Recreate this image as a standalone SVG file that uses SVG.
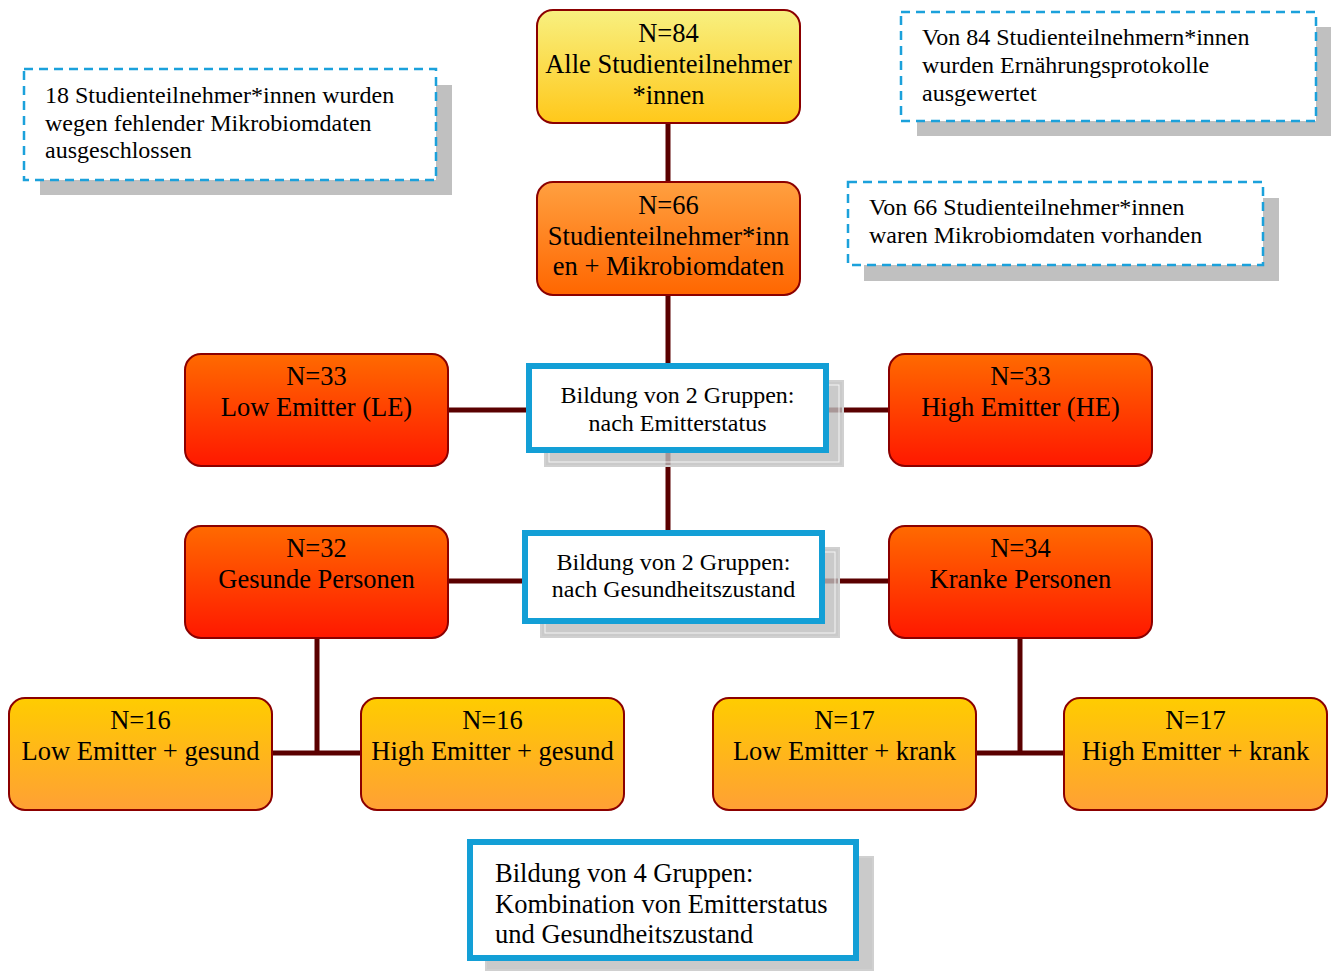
<svg xmlns="http://www.w3.org/2000/svg" width="1335" height="971" viewBox="0 0 1335 971">
<defs>
<linearGradient id="gYellow" x1="0" y1="0" x2="0" y2="1"><stop offset="0" stop-color="#F8F080"/><stop offset="1" stop-color="#FFC81A"/></linearGradient>
<linearGradient id="gOrange" x1="0" y1="0" x2="0" y2="1"><stop offset="0" stop-color="#FFA040"/><stop offset="1" stop-color="#FF6600"/></linearGradient>
<linearGradient id="gRed" x1="0" y1="0" x2="0" y2="1"><stop offset="0" stop-color="#FF6A00"/><stop offset="1" stop-color="#FF1800"/></linearGradient>
<linearGradient id="gGold" x1="0" y1="0" x2="0" y2="1"><stop offset="0" stop-color="#FFCC00"/><stop offset="1" stop-color="#FFA035"/></linearGradient>
<style>
.node{stroke:#8B0000;stroke-width:2}
.t{font-family:"Liberation Serif","Times New Roman",serif;fill:#000}
.nt{font-size:26.5px;text-anchor:middle}
.bt{font-size:24px;text-anchor:middle}
.dt{font-size:24px}
.conn{stroke:#5A0000;stroke-width:5;fill:none}
.shadow{fill:#C0C0C0}
.bshadow{fill:#BDBDBD;fill-opacity:0.8;stroke:#D0D0D0;stroke-width:2}
.binner{fill:none;stroke:#FFFFFF;stroke-width:1;stroke-opacity:0.8}
.blue{fill:#FFFFFF;stroke:#139FD6;stroke-width:6}
.dash{fill:#FFFFFF;stroke:#1BA1DB;stroke-width:2.5;stroke-dasharray:9,6}
</style>
</defs>
<rect width="1335" height="971" fill="#FFFFFF"/>

<g id="connectors">
<line class="conn" x1="668" y1="123" x2="668" y2="182"/>
<line class="conn" x1="668" y1="295" x2="668" y2="532"/>
<line class="conn" x1="448" y1="410" x2="889" y2="410"/>
<line class="conn" x1="448" y1="581" x2="889" y2="581"/>
<line class="conn" x1="317" y1="638" x2="317" y2="753"/>
<line class="conn" x1="272" y1="753" x2="361" y2="753"/>
<line class="conn" x1="1020" y1="638" x2="1020" y2="753"/>
<line class="conn" x1="976" y1="753" x2="1064" y2="753"/>
</g>

<g id="note-excluded">
<rect class="shadow" x="40" y="85" width="412" height="110"/>
<rect class="dash" x="24" y="69" width="412" height="111"/>
<text class="t dt" x="45" y="103">18 Studienteilnehmer*innen wurden</text>
<text class="t dt" x="45" y="131">wegen fehlender Mikrobiomdaten</text>
<text class="t dt" x="45" y="158">ausgeschlossen</text>
</g>

<g id="note-84">
<rect class="shadow" x="917" y="27" width="414" height="109"/>
<rect class="dash" x="901" y="12" width="415" height="109"/>
<text class="t dt" x="922" y="45">Von 84 Studienteilnehmern*innen</text>
<text class="t dt" x="922" y="73">wurden Ernährungsprotokolle</text>
<text class="t dt" x="922" y="101">ausgewertet</text>
</g>

<g id="note-66">
<rect class="shadow" x="864" y="198" width="415" height="83"/>
<rect class="dash" x="848" y="182" width="415" height="83"/>
<text class="t dt" x="869" y="215">Von 66 Studienteilnehmer*innen</text>
<text class="t dt" x="869" y="243">waren Mikrobiomdaten vorhanden</text>
</g>

<g id="node-84">
<rect class="node" x="537" y="10" width="263" height="113" rx="16" fill="url(#gYellow)"/>
<text class="t nt" x="668.5" y="42">N=84</text>
<text class="t nt" x="668.5" y="73">Alle Studienteilnehmer</text>
<text class="t nt" x="668.5" y="104">*innen</text>
</g>

<g id="node-66">
<rect class="node" x="537" y="182" width="263" height="113" rx="16" fill="url(#gOrange)"/>
<text class="t nt" x="668.5" y="214">N=66</text>
<text class="t nt" x="668.5" y="245">Studienteilnehmer*inn</text>
<text class="t nt" x="668.5" y="275">en + Mikrobiomdaten</text>
</g>

<g id="box-emitter">
<rect class="bshadow" x="545" y="381" width="298" height="85"/>
<rect class="binner" x="549" y="385" width="290" height="77"/>
<rect class="blue" x="529" y="366" width="297" height="84"/>
<text class="t bt" x="677.5" y="403">Bildung von 2 Gruppen:</text>
<text class="t bt" x="677.5" y="431">nach Emitterstatus</text>
</g>

<g id="node-le">
<rect class="node" x="185" y="354" width="263" height="112" rx="16" fill="url(#gRed)"/>
<text class="t nt" x="316.5" y="385">N=33</text>
<text class="t nt" x="316.5" y="416">Low Emitter (LE)</text>
</g>

<g id="node-he">
<rect class="node" x="889" y="354" width="263" height="112" rx="16" fill="url(#gRed)"/>
<text class="t nt" x="1020.5" y="385">N=33</text>
<text class="t nt" x="1020.5" y="416">High Emitter (HE)</text>
</g>

<g id="box-health">
<rect class="bshadow" x="541" y="548" width="298" height="89"/>
<rect class="binner" x="545" y="552" width="290" height="81"/>
<rect class="blue" x="525" y="533" width="297" height="88"/>
<text class="t bt" x="673.5" y="570">Bildung von 2 Gruppen:</text>
<text class="t bt" x="673.5" y="597">nach Gesundheitszustand</text>
</g>

<g id="node-gesund">
<rect class="node" x="185" y="526" width="263" height="112" rx="16" fill="url(#gRed)"/>
<text class="t nt" x="316.5" y="557">N=32</text>
<text class="t nt" x="316.5" y="588">Gesunde Personen</text>
</g>

<g id="node-krank">
<rect class="node" x="889" y="526" width="263" height="112" rx="16" fill="url(#gRed)"/>
<text class="t nt" x="1020.5" y="557">N=34</text>
<text class="t nt" x="1020.5" y="588">Kranke Personen</text>
</g>

<g id="node-le-gesund">
<rect class="node" x="9" y="698" width="263" height="112" rx="16" fill="url(#gGold)"/>
<text class="t nt" x="140.5" y="729">N=16</text>
<text class="t nt" x="140.5" y="760">Low Emitter + gesund</text>
</g>

<g id="node-he-gesund">
<rect class="node" x="361" y="698" width="263" height="112" rx="16" fill="url(#gGold)"/>
<text class="t nt" x="492.5" y="729">N=16</text>
<text class="t nt" x="492.5" y="760">High Emitter + gesund</text>
</g>

<g id="node-le-krank">
<rect class="node" x="713" y="698" width="263" height="112" rx="16" fill="url(#gGold)"/>
<text class="t nt" x="844.5" y="729">N=17</text>
<text class="t nt" x="844.5" y="760">Low Emitter + krank</text>
</g>

<g id="node-he-krank">
<rect class="node" x="1064" y="698" width="263" height="112" rx="16" fill="url(#gGold)"/>
<text class="t nt" x="1195.5" y="729">N=17</text>
<text class="t nt" x="1195.5" y="760">High Emitter + krank</text>
</g>

<g id="box-combined">
<rect class="bshadow" x="486" y="857" width="387" height="113"/>
<rect class="blue" x="470" y="842" width="386" height="116"/>
<text class="t" style="font-size:26.5px" x="495" y="882">Bildung von 4 Gruppen:</text>
<text class="t" style="font-size:26.5px" x="495" y="913">Kombination von Emitterstatus</text>
<text class="t" style="font-size:26.5px" x="495" y="943">und Gesundheitszustand</text>
</g>
</svg>
